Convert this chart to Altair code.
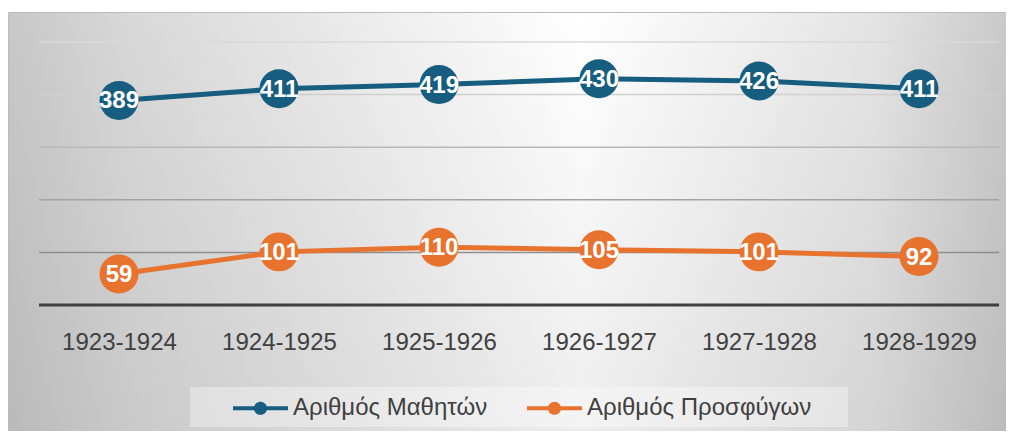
import altair as alt
import pandas as pd

FONT = "Liberation Sans, Arial, sans-serif"

years = ["1923-1924", "1924-1925", "1925-1926", "1926-1927", "1927-1928", "1928-1929"]
students = [389, 411, 419, 430, 426, 411]
refugees = [59, 101, 110, 105, 101, 92]
series_names = ["Αριθμός Μαθητών", "Αριθμός Προσφύγων"]
series_colors = ["#175d7f", "#e8732f"]
grid_values = [0, 100, 200, 300, 400, 500]
grid_colors = ["#404040", "#8e8e8e", "#a3a3a3", "#b8b8b8", "#d0d0d0", "#dadada"]
grid_widths = [3, 1.5, 1.5, 1.5, 1.5, 1.5]

rows = []
for yr, s, r in zip(years, students, refugees):
    rows.append({"year": yr, "series": series_names[0], "value": s, "col": series_colors[0]})
    rows.append({"year": yr, "series": series_names[1], "value": r, "col": series_colors[1]})
df = pd.DataFrame(rows)
grid_df = pd.DataFrame({"v": grid_values, "c": grid_colors, "w": grid_widths})
one = pd.DataFrame({"k": [0]})

ydom = alt.Scale(domain=[0, 500], nice=False, zero=True)
x_enc = alt.X("year:N", sort=years, scale=alt.Scale(type="point", padding=0.5),
              axis=alt.Axis(title=None, labelAngle=0, labelFontSize=24, labelColor="#404040",
                            labelFont=FONT, ticks=False, domain=False, grid=False, labelPadding=25,
                            zindex=1))
y_enc = alt.Y("value:Q", scale=ydom, axis=None)

legend_path = ("M-1,-0.075H1V0.075H-1Z "
               "M0.24,0A0.24,0.24,0,1,1,-0.24,0A0.24,0.24,0,1,1,0.24,0Z")

# background frame
bg_h = alt.Chart(one).mark_rect(
    fill=alt.LinearGradient(gradient="linear", x1=0, x2=1, y1=0, y2=0, stops=[
        alt.GradientStop(color="#c8c8c8", offset=0),
        alt.GradientStop(color="#d8d8d8", offset=0.12),
        alt.GradientStop(color="#ffffff", offset=0.57),
        alt.GradientStop(color="#e4e4e4", offset=0.86),
        alt.GradientStop(color="#c8c8c8", offset=1)]),
    stroke="#bcbcbc", strokeWidth=1
).encode(x=alt.value(-30.5), x2=alt.value(975), y=alt.value(-29.5), y2=alt.value(400))

bg_v = alt.Chart(one).mark_rect(
    fill=alt.LinearGradient(gradient="linear", x1=0, x2=0, y1=0, y2=1, stops=[
        alt.GradientStop(color="rgba(0,0,0,0)", offset=0),
        alt.GradientStop(color="rgba(0,0,0,0.07)", offset=1)])
).encode(x=alt.value(-30), x2=alt.value(975), y=alt.value(-29), y2=alt.value(400))

legend_box = alt.Chart(one).mark_rect(fill="#ffffff", opacity=0.35).encode(
    x=alt.value(151), x2=alt.value(809), y=alt.value(345), y2=alt.value(385))

grid = alt.Chart(grid_df).mark_rule().encode(
    y=alt.Y("v:Q", scale=ydom, axis=None),
    stroke=alt.Stroke("c:N", scale=None, legend=None),
    strokeWidth=alt.StrokeWidth("w:Q", scale=None, legend=None))

lines = alt.Chart(df).mark_line(strokeWidth=5).encode(
    x=x_enc, y=y_enc,
    color=alt.Color("col:N", scale=None),
    detail="series:N")

points = alt.Chart(df).mark_circle(size=1520, opacity=1).encode(
    x=x_enc, y=y_enc,
    fill=alt.Fill("series:N", scale=alt.Scale(domain=series_names, range=series_colors),
                  legend=alt.Legend(title=None, orient="none", legendX=194, legendY=338.5,
                                    direction="horizontal", symbolType=legend_path, symbolSize=3025,
                                    symbolStrokeWidth=0, symbolOpacity=1, labelFont=FONT,
                                    labelFontSize=24, labelColor="#404040", labelOffset=5,
                                    columnPadding=39, padding=0, labelLimit=400, zindex=1)))

labels = alt.Chart(df).mark_text(font=FONT, fontSize=24, fontWeight="bold", color="white",
                                 baseline="middle", dy=1).encode(
    x=x_enc, y=y_enc, text="value:Q")

chart = alt.layer(bg_h, bg_v, legend_box, grid, lines, points, labels).properties(
    width=960, height=263,
    autosize=alt.AutoSizeParams(type="none"),
    padding={"left": 31, "top": 34, "right": 7, "bottom": 126},
).configure_view(stroke=None).configure(background="white")

chart.save("out.html", embed_options={"renderer": "svg", "actions": False})
